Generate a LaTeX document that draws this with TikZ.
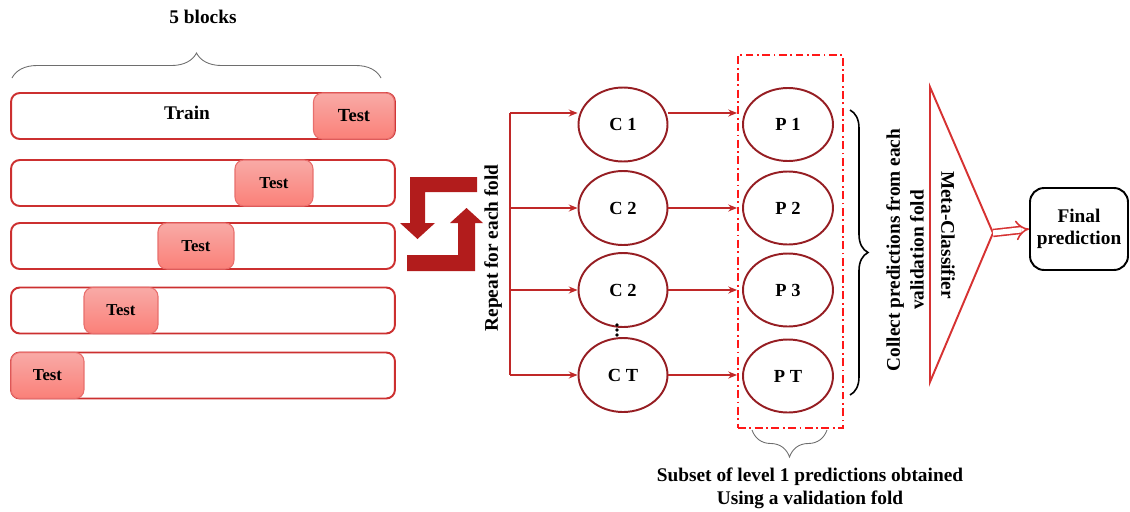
\documentclass[tikz,border=0pt]{standalone}
\usepackage{fontspec}
\setmainfont{Liberation Serif}
\usetikzlibrary{shapes.geometric, arrows.meta, decorations.pathreplacing}

\definecolor{barred}{RGB}{204,48,48}
\definecolor{testedge}{RGB}{232,110,108}
\definecolor{testtop}{RGB}{249,170,166}
\definecolor{testbot}{RGB}{250,128,120}
\definecolor{cyclered}{RGB}{178,28,28}
\definecolor{linkred}{RGB}{192,40,40}
\definecolor{ellred}{RGB}{150,30,35}
\definecolor{dashred}{RGB}{255,24,24}
\definecolor{trired}{RGB}{214,50,50}
\definecolor{bracegray}{RGB}{110,110,110}

\tikzset{
  bar/.style={draw=barred, line width=1.1pt, rounded corners=5pt,
    minimum width=7.68cm, minimum height=0.92cm, inner sep=0pt},
  testbox/.style={draw=testedge, line width=0.6pt, rounded corners=5pt,
    top color=testtop, bottom color=testbot, minimum width=#1,
    minimum height=0.92cm, inner sep=0pt,
    font=\bfseries\fontsize{9.5}{11}\selectfont},
  clf/.style={ellipse, draw=ellred, line width=1.1pt, minimum width=1.78cm,
    minimum height=1.48cm, inner sep=0pt,
    font=\bfseries\fontsize{10.5}{12}\selectfont},
  link/.style={draw=linkred, line width=0.7pt, -{Stealth[length=5pt,width=4pt]}},
  trunk/.style={draw=linkred, line width=0.7pt},
  valbox/.style={draw=dashred, line width=1.1pt,
    dash pattern=on 4.5pt off 2pt on 1pt off 2pt,
    minimum width=2.1cm, minimum height=7.46cm, inner sep=0pt},
  bracedeco/.style={decorate, decoration={brace, amplitude=#1}},
  finalbox/.style={draw=black, line width=1.1pt, rounded corners=8pt,
    minimum width=1.96cm, minimum height=1.64cm, align=center,
    font=\bfseries\fontsize{11}{12.5}\selectfont},
  cyclearrow/.style={fill=cyclered, draw=none}
}

\begin{document}
\begin{tikzpicture}[x=0.02cm, y=-0.02cm, font=\bfseries\fontsize{11}{13}\selectfont]
\useasboundingbox (0,0) rectangle (1130,511);

% ---- the five folds ----
\node (title) at (203,17) {5 blocks};
\draw[bracegray, line width=0.5pt, bracedeco=0.5cm] (12,78) -- (381,78);

\node[bar] (bar1) at (203,116) {};
\node[bar] (bar2) at (203,183) {};
\node[bar] (bar3) at (203,246) {};
\node[bar] (bar4) at (203,310.5) {};
\node[bar] (bar5) at (203,375.5) {};

\node[testbox=1.62cm] (test1) at (354,116) {\fontsize{10.5}{12}\selectfont Test};
\node[testbox=1.56cm] (test2) at (274,183) {Test};
\node[testbox=1.52cm] (test3) at (196,246) {Test};
\node[testbox=1.48cm] (test4) at (121,310.5) {Test};
\node[testbox=1.46cm] (test5) at (47.5,375.5) {Test};
\node (train) at (187,113) {Train};

% ---- cycle symbol ----
\fill[cyclearrow] (477,177) -- (410,177) -- (410,223) -- (400,223) -- (417.5,239)
  -- (435,223) -- (425,223) -- (425,192) -- (477,192) -- cycle;
\fill[cyclearrow] (407,255) -- (458,255) -- (458,223) -- (450,223) -- (466.5,208)
  -- (483,223) -- (475,223) -- (475,271) -- (407,271) -- cycle;

\node[rotate=90] (repeat) at (493,248) {Repeat for each fold};

% ---- level-1 classifiers ----
\node[clf] (c1) at (623,124.5) {C 1};
\node[clf] (c2) at (623,208) {C 2};
\node[clf] (c3) at (623,290) {C 2};
\node[clf] (ct) at (623,375) {C T};
% vertical ellipsis between the last two classifiers
\foreach \yy in {325,330,335}
  \fill[black] (617,\yy) circle[radius=1.1pt];

\coordinate (j1) at (510,113);
\coordinate (j2) at (510,208);
\coordinate (j3) at (510,290);
\coordinate (j4) at (510,375);
\draw[trunk] (j1) -- (j4);
\draw[link] (j1) -- (j1 -| c1.west);
\draw[link] (j2) -- (c2);
\draw[link] (j3) -- (c3);
\draw[link] (j4) -- (ct);

% ---- level-1 predictions ----
\node[valbox] (val) at (790.5,241.5) {};
\node[clf, minimum width=1.8cm, minimum height=1.46cm] (p1) at (788,124.5) {P 1};
\node[clf, minimum width=1.8cm, minimum height=1.46cm] (p2) at (788,208) {P 2};
\node[clf, minimum width=1.8cm, minimum height=1.46cm] (p3) at (788,290) {P 3};
\node[clf, minimum width=1.8cm, minimum height=1.46cm] (pt) at (788,376) {P T};

\draw[link] (j1 -| c1.east) -- (j1 -| val.west);
\draw[link] (c2) -- (c2 -| val.west);
\draw[link] (c3) -- (c3 -| val.west);
\draw[link] (ct) -- (ct -| val.west);

\draw[black, line width=0.9pt, bracedeco=0.36cm] (850,110) -- (850,395);
\node[rotate=90, align=center, font=\bfseries\fontsize{11}{13.6}\selectfont]
  (collect) at (905,250) {Collect predictions from each\\validation fold};

\draw[bracegray, line width=0.5pt, bracedeco=0.54cm] (827,430) -- (752,430);
\node[align=center] (subset) at (810,488.5)
  {Subset of level 1 predictions obtained\\Using a validation fold};

% ---- meta-classifier ----
\coordinate (mtop) at (930,87);
\coordinate (mtip) at (993,233);
\coordinate (mbot) at (930,382);
\draw[trired, line width=1.1pt, line join=miter] (mtop) -- (mtip) -- (mbot) -- cycle;
\node[rotate=-90] (meta) at (948,235) {Meta-Classifier};

\node[finalbox] (final) at (1079,229) {Final\\prediction};
\draw[trired, line width=0.9pt, double=white, double distance=3pt,
  -{Implies}] (mtip) -- (final.west);
\end{tikzpicture}
\end{document}
